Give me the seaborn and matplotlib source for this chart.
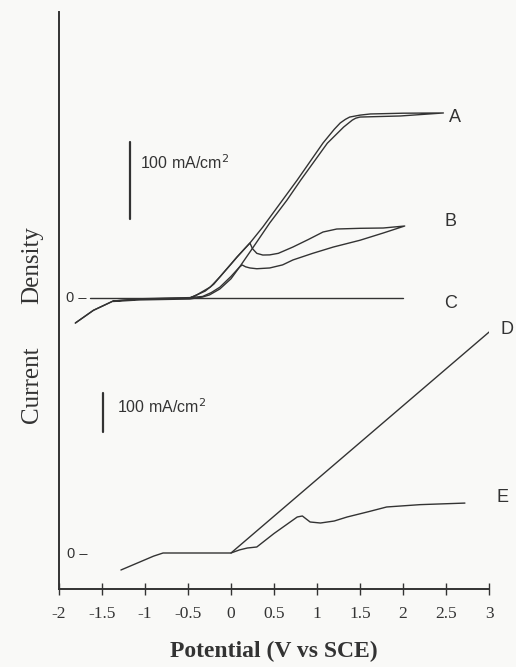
import numpy as np
import pandas as pd
import matplotlib
matplotlib.use("Agg")
import matplotlib.pyplot as plt
import seaborn as sns

# ---------------- data (potential V vs SCE, current density mA/cm^2) -------------
A_V = [-1.81, -1.60, -1.37, -1.06, -0.48, -0.40, -0.30, -0.20, -0.13, 0.00, 0.07, 0.22, 0.37,
       0.60, 0.77, 1.07, 1.20, 1.27, 1.33, 1.38, 1.50, 1.62, 2.00, 2.47,
       1.97, 1.50, 1.45, 1.41, 1.31, 1.12, 0.81, 0.65, 0.45, 0.26, 0.10, 0.00, -0.13,
       -0.25, -0.33, -0.48, -1.06, -1.37]
A_I = [-32.5, -16.0, -3.9, -1.3, 0.0, 3.9, 9.0, 18.0, 27.3, 44.0, 53.2, 71.4, 92.2,
       127.3, 153.2, 201.3, 219.0, 227.3, 232.0, 235.0, 237.5, 239.0, 240.0, 240.3,
       236.4, 235.0, 233.5, 231.0, 222.0, 201.0, 153.0, 127.0, 97.4, 66.2, 40.3, 25.0, 11.7,
       4.0, 1.3, -1.3, -2.5, -4.5]

B_V = [-1.81, -1.60, -1.37, -1.06, -0.48, -0.33, -0.23, -0.13, 0.00, 0.10, 0.13, 0.17, 0.22,
       0.30, 0.45, 0.60, 0.72, 0.95, 1.19, 1.50, 1.77, 2.02,
       1.77, 1.50, 1.23, 1.07, 0.90, 0.72, 0.55, 0.45, 0.37, 0.30, 0.25, 0.22, 0.15,
       0.07, -0.13, -0.24, -0.40, -0.48]
B_I = [-32.5, -16.0, -3.9, -1.0, 0.5, 2.0, 7.0, 14.0, 28.0, 40.3, 42.9, 40.5, 39.0,
       38.0, 39.0, 43.0, 49.4, 58.0, 66.2, 75.0, 84.4, 93.5,
       90.9, 90.5, 89.6, 85.7, 76.0, 66.2, 58.0, 56.0, 55.8, 58.0, 64.0, 71.4, 63.0,
       53.2, 27.3, 14.3, 3.9, 0.0]

C_V = [-1.64, 2.00]
C_I = [0.0, 0.0]

D_V = [0.00, 3.03]
D_I = [0.0, 572.0]

E_V = [-1.28, -1.06, -0.90, -0.79, 0.00, 0.10, 0.19, 0.30, 0.50, 0.77, 0.83, 0.87, 0.92,
       1.04, 1.20, 1.35, 1.60, 1.81, 2.20, 2.72]
E_I = [-43.6, -23.0, -8.0, 0.0, 0.0, 8.0, 12.8, 15.4, 50.0, 92.3, 94.9, 88.0, 79.5,
       76.9, 82.0, 92.3, 106.0, 118.0, 124.0, 128.0]

XTICKS = [-2, -1.5, -1, -0.5, 0, 0.5, 1, 1.5, 2, 2.5, 3]
XTICK_LABELS = ["-2", "-1.5", "-1", "-0.5", "0", "0.5", "1", "1.5", "2", "2.5", "3"]
CURVE_LABELS = ["A", "B", "C", "D", "E"]

# panel offsets / scales on the shared "current density" axis
UP_ZERO, UP_SCALE = 291.0, 0.77     # upper panel (A, B, C)
LO_ZERO, LO_SCALE = 36.0, 0.39      # lower panel (D, E)

sns.set_theme(style="white")
plt.rcParams["font.family"] = ["Liberation Serif", "DejaVu Serif"]

BG = "#f9f9f7"
INK = "#333333"

fig = plt.figure(figsize=(5.16, 6.67), dpi=100, facecolor=BG)
ax = fig.add_axes([59 / 516, 78 / 667, 430 / 516, 577 / 667])
ax.set_facecolor(BG)

frames = []
def add(name, V, I, zero, scale):
    frames.append(pd.DataFrame({"V": V, "y": zero + np.asarray(I) * scale,
                                "curve": name, "order": np.arange(len(V))}))

add("A", A_V, A_I, UP_ZERO, UP_SCALE)
add("B", B_V, B_I, UP_ZERO, UP_SCALE)
add("C", C_V, C_I, UP_ZERO, UP_SCALE)
add("D", D_V, D_I, LO_ZERO, LO_SCALE)
add("E", E_V, E_I, LO_ZERO, LO_SCALE)
df = pd.concat(frames, ignore_index=True)

for name, g in df.groupby("curve"):
    sns.lineplot(data=g, x="V", y="y", sort=False, estimator=None, ax=ax,
                 color=INK, linewidth=1.0)

# scale bars
ax.plot([-1.174, -1.174], [UP_ZERO + 103 * UP_SCALE, UP_ZERO + 103 * UP_SCALE + 100 * UP_SCALE],
        color=INK, lw=1.6)
ax.plot([-1.488, -1.488], [157, 157 + 100 * LO_SCALE], color=INK, lw=1.6)
sans = ["Liberation Sans", "DejaVu Sans"]
ax.text(-1.058, 426, "100 mA/cm$^2$", family=sans, fontsize=11.5, color=INK, va="center")
ax.text(-1.326, 182, "100 mA/cm$^2$", family=sans, fontsize=11.5, color=INK, va="center")

# zero markers
ax.text(-1.92, UP_ZERO, "0 \u2013", family=sans, fontsize=10.5, color=INK, va="center")
ax.text(-1.91, LO_ZERO - 1, "0 \u2013", family=sans, fontsize=10.5, color=INK, va="center")

# curve labels
lab_pos = [(2.61, 472), (2.55, 367), (2.55, 285), (3.21, 259), (3.16, 91)]
for lab, (x, y) in zip(CURVE_LABELS, lab_pos):
    ax.text(x, y, lab, family=sans, fontsize=13, color=INK, ha="center", va="center")

ax.set_xlim(-2, 3)
ax.set_ylim(0, 577)
ax.set_xticks(XTICKS)
ax.set_xticklabels(XTICK_LABELS, fontsize=12.5, color=INK)
ax.set_yticks([])
ax.tick_params(axis="x", direction="inout", length=8, width=1.0, color=INK, pad=8, bottom=True)
for s in ["top", "right"]:
    ax.spines[s].set_visible(False)
for s in ["left", "bottom"]:
    ax.spines[s].set_color(INK)
    ax.spines[s].set_linewidth(1.4)

ax.set_xlabel("Potential (V vs SCE)", fontsize=17, fontweight="bold", color=INK, labelpad=14)
ax.set_ylabel("")
# y-axis title (two words, widely spaced as in the original)
fig.text(32 / 516, 1 - 265 / 667, "Density", rotation=90, fontsize=18,
         color=INK, ha="center", va="center")
fig.text(32 / 516, 1 - 385 / 667, "Current", rotation=90, fontsize=18,
         color=INK, ha="center", va="center")

fig.savefig("out.png", dpi=100, facecolor=BG)
